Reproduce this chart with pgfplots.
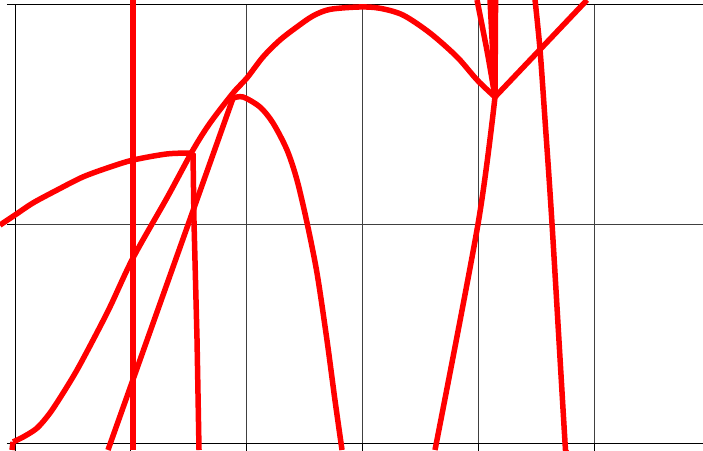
\documentclass[border=0pt]{standalone}
\usepackage{pgfplots}
\pgfplotsset{compat=1.18}
\pgfplotsset{redline/.style={color=red, line width=5.5pt, mark=none}}

\begin{document}
\begin{tikzpicture}
\useasboundingbox (0,0) rectangle (703pt,450pt);
\clip (0,0) rectangle (703pt,450pt);
\begin{axis}[
    at={(15pt,7pt)}, anchor=south west,
    scale only axis,
    width=694.8pt, height=438pt,
    xmin=0, xmax=6, ymin=0, ymax=2,
    xtick={0,1,2,3,4,5,6}, ytick={0,1,2},
    xticklabels={}, yticklabels={},
    tick pos=left, tick align=outside,
    major tick length=8pt,
    every tick/.style={black, line width=1pt},
    grid=major,
    grid style={black!75, line width=1pt},
    axis line style={black, line width=1pt},
    clip=false,
]
% rising curve and dome up to the V
\addplot[redline] coordinates {(-0.026,-0.032) (-0.017,0.005)};
\addplot[redline, smooth, tension=0.5] coordinates {
    (-0.017,0.005) (0.069,0.027) (0.190,0.068) (0.302,0.137) (0.415,0.228)
    (0.535,0.333) (0.674,0.470) (0.820,0.621) (1.019,0.845) (1.313,1.120)
    (1.537,1.338) (1.684,1.461) (1.883,1.598) (2.003,1.667) (2.142,1.763)
    (2.288,1.840) (2.435,1.900) (2.573,1.950) (2.720,1.980) (2.979,1.991)
    (3.152,1.985) (3.351,1.954) (3.584,1.872) (3.817,1.763) (3.990,1.658)
    (4.145,1.580)
};
\addplot[redline] coordinates {(4.145,1.580) (4.940,2.023)};
% flat arc from the left edge, then nearly vertical drop
\addplot[redline, smooth, tension=0.5] coordinates {
    (-0.130,0.995) (0.000,1.041) (0.155,1.096) (0.363,1.155) (0.587,1.215)
    (0.820,1.260) (1.019,1.292) (1.313,1.320) (1.537,1.324)
};
\addplot[redline] coordinates {(1.537,1.324) (1.546,1.005) (1.572,0.470) (1.589,-0.032)};
% straight rise and falling arc
\addplot[redline] coordinates {(0.803,-0.032) (1.883,1.575)};
\addplot[redline, smooth, tension=0.5] coordinates {
    (1.883,1.575) (1.969,1.580) (2.116,1.534) (2.228,1.461)
    (2.349,1.338) (2.435,1.201) (2.522,1.005) (2.608,0.776) (2.694,0.470)
    (2.763,0.196) (2.824,-0.032)
};
% vertical line
\addplot[redline, line width=6pt] coordinates {(1.019,-0.032) (1.019,2.023)};
% lines meeting at the V
\addplot[redline, smooth] coordinates {(3.990,2.023) (4.080,1.780) (4.145,1.580)};
\addplot[redline] coordinates {(4.102,2.023) (4.145,1.580)};
\addplot[redline] coordinates {(4.150,2.023) (4.145,1.580)};
\addplot[redline, smooth] coordinates {(4.145,1.580) (4.000,1.005) (3.627,-0.032)};
% steep line on the right
\addplot[redline, smooth] coordinates {
    (4.491,2.023) (4.534,1.795) (4.577,1.475) (4.637,1.005) (4.750,0.000)
    (4.758,-0.032)
};
\end{axis}
\end{tikzpicture}
\end{document}
